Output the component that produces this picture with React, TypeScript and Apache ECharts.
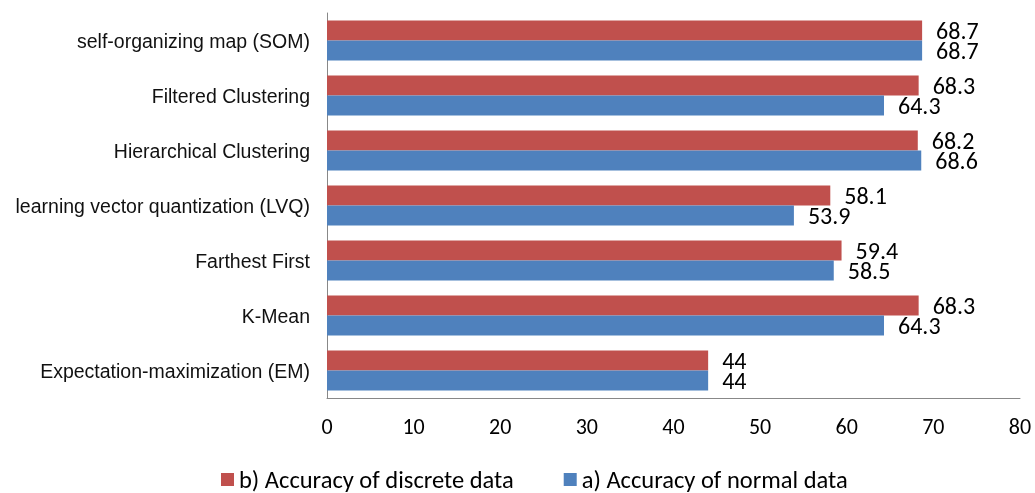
import React, { useEffect, useRef } from "react";
import * as echarts from "echarts";

const categories = [
  "Expectation-maximization (EM)",
  "K-Mean",
  "Farthest First",
  "learning vector quantization (LVQ)",
  "Hierarchical Clustering",
  "Filtered Clustering",
  "self-organizing map (SOM)",
];
const discrete = [44, 68.3, 59.4, 58.1, 68.2, 68.3, 68.7];
const normal = [44, 64.3, 58.5, 53.9, 68.6, 64.3, 68.7];
const seriesNames = ["b) Accuracy of discrete data", "a) Accuracy of normal data"];

export default function App() {
  const ref = useRef<HTMLDivElement>(null);
  useEffect(() => {
    const chart = echarts.init(ref.current!, null, { renderer: "svg" });
    const labelFont = "Carlito, 'Open Sans', sans-serif";
    const valueLabel = {
      show: true,
      position: "right",
      distance: 14,
      fontSize: 24,
      lineHeight: 20,
      color: "#000",
      fontFamily: labelFont,
    };
    chart.setOption({
      animation: false,
      grid: { left: 327, right: 15, top: 13, bottom: 95 },
      legend: {
        left: 216,
        top: 462,
        itemWidth: 13,
        itemHeight: 13,
        itemGap: 50,
        icon: "rect",
        textStyle: { fontSize: 24.5, lineHeight: 24, color: "#000", fontFamily: labelFont },
        data: seriesNames,
      },
      xAxis: {
        type: "value",
        min: 0,
        max: 80,
        interval: 10,
        axisLine: { show: true, lineStyle: { color: "#888" } },
        axisTick: { show: false },
        splitLine: { show: false },
        axisLabel: { fontSize: 22, color: "#000", margin: 17, fontFamily: labelFont },
      },
      yAxis: {
        type: "category",
        data: categories,
        axisLine: { show: true, lineStyle: { color: "#888" } },
        axisTick: { show: false },
        axisLabel: {
          fontSize: 19.5,
          color: "#111",
          margin: 17,
          fontFamily: "'Liberation Sans', Arial, sans-serif",
        },
      },
      series: [
        {
          name: seriesNames[0],
          type: "bar",
          data: discrete,
          barWidth: 20,
          barGap: "0%",
          itemStyle: { color: "#C0504D" },
          label: valueLabel,
        },
        {
          name: seriesNames[1],
          type: "bar",
          data: normal,
          barWidth: 20,
          barGap: "0%",
          itemStyle: { color: "#4F81BD" },
          label: valueLabel,
        },
      ],
    });
    return () => chart.dispose();
  }, []);
  return (
    <div
      ref={ref}
      style={{ position: "fixed", left: 0, top: 0, width: 1035, height: 493 }}
    />
  );
}
